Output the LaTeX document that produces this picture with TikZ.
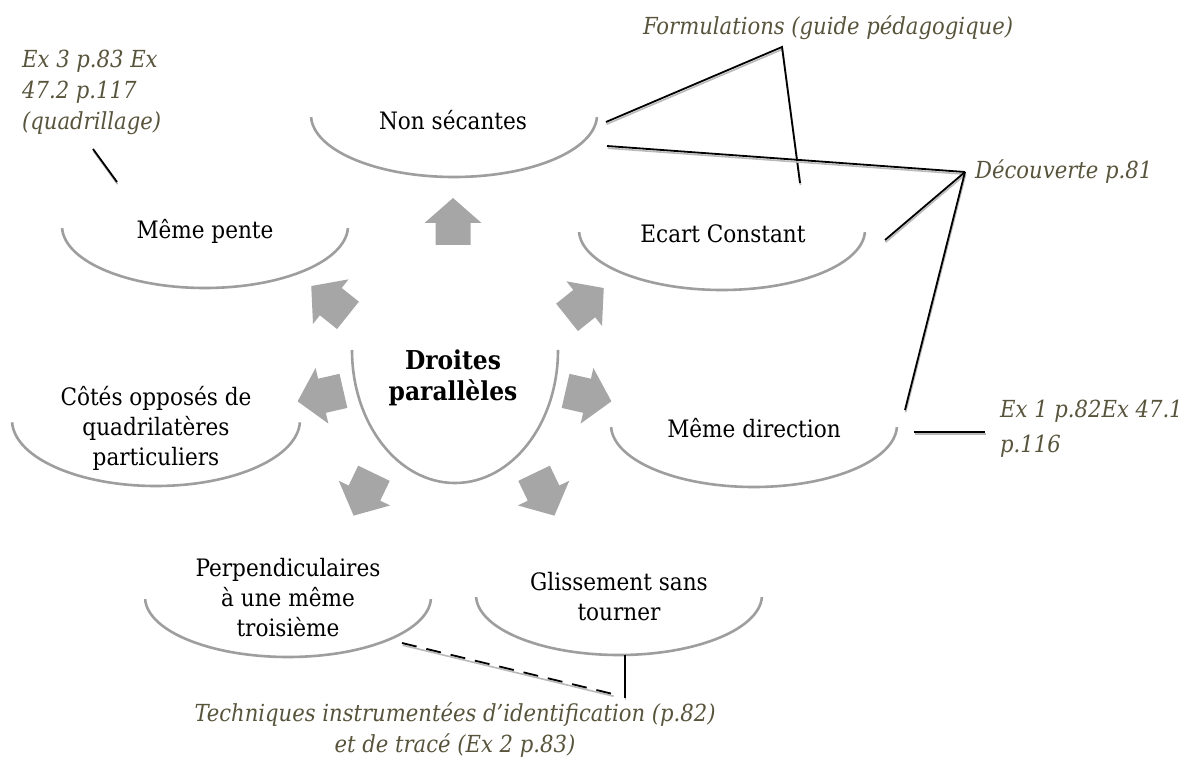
\documentclass[tikz,border=0pt]{standalone}
\usepackage{fontspec}
\setmainfont{DejaVu Serif Condensed}
\definecolor{arcgray}{RGB}{158,158,158}
\definecolor{arrgray}{RGB}{166,166,166}
\definecolor{annot}{RGB}{88,84,60}
\tikzset{
  lab/.style={align=center, inner sep=0pt, text=black, font=\fontsize{24}{30}\selectfont},
  mainlab/.style={align=center, inner sep=0pt, text=black, font=\fontsize{26}{31}\selectfont\bfseries},
  note/.style={align=left, inner sep=0pt, text=annot, font=\fontsize{23.5}{31}\selectfont\itshape},
  bowl/.style={draw=arcgray, line width=2.6pt},
  radarrow/.style={fill=arrgray, draw=none},
  conn/.style={draw=black, line width=1.8pt,
    preaction={draw=gray!55, line width=1.6pt, transform canvas={xshift=0.6pt, yshift=-2.2pt}}},
}
\newcommand{\radarrow}[3]{% x, y, angle
  \fill[radarrow, shift={(#1,#2)}, rotate=#3]
    (-23,-17.5) -- (-1,-17.5) -- (-1,-28.5) -- (24,0) -- (-1,28.5) -- (-1,17.5) -- (-23,17.5) -- cycle;}
\begin{document}
\begin{tikzpicture}[x=1pt,y=-1pt]
\useasboundingbox[fill=white] (0,0) rectangle (1181,767);

% bowls (lower arcs of the node ellipses)
\draw[bowl] (454,115) ++(178:143 and 62) arc[start angle=178, end angle=2, x radius=143, y radius=62];
\draw[bowl] (205,226) ++(178:143 and 62) arc[start angle=178, end angle=2, x radius=143, y radius=62];
\draw[bowl] (722,230) ++(178:143 and 60) arc[start angle=178, end angle=2, x radius=143, y radius=60];
\draw[bowl] (156,420) ++(178:144 and 66) arc[start angle=178, end angle=2, x radius=144, y radius=66];
\draw[bowl] (455,350) ++(180:103 and 133) arc[start angle=180, end angle=0, x radius=103, y radius=133];
\draw[bowl] (754,425) ++(178:143 and 62) arc[start angle=178, end angle=2, x radius=143, y radius=62];
\draw[bowl] (288,597) ++(178:143 and 60) arc[start angle=178, end angle=2, x radius=143, y radius=60];
\draw[bowl] (619,595) ++(178:143 and 60) arc[start angle=178, end angle=2, x radius=143, y radius=60];

% node texts
\node[lab] (ns) at (453,120) {Non sécantes};
\node[lab] (mp) at (205,231) {Même pente};
\node[lab] (ec) at (723,234) {Ecart Constant};
\node[lab] (co) at (156,428) {Côtés opposés de\\quadrilatères\\particuliers};
\node[mainlab] (dp) at (453,378) {Droites\\parallèles};
\node[lab] (md) at (754,428) {Même direction};
\node[lab] (pe) at (288,598) {Perpendiculaires\\à une même\\troisième};
\node[lab] (gl) at (619,597) {Glissement sans\\tourner};

% radial arrows
\radarrow{453}{222}{90}
\radarrow{585}{303}{38.6}
\radarrow{588}{396}{-12.9}
\radarrow{544}{494}{-64.3}
\radarrow{364}{494}{244.3}
\radarrow{321}{396}{192.9}
\radarrow{330}{301}{141.4}

% annotations
\node[note, anchor=north west] (n1) at (22,50) {Ex 3 p.83 Ex\\47.2 p.117\\(quadrillage)};
\node[note, anchor=center] (n2) at (828,28) {Formulations (guide pédagogique)};
\node[note, anchor=west] (n3) at (975,172) {Découverte p.81};
\node[note, anchor=north west, font=\fontsize{23.5}{35}\selectfont\itshape] (n4) at (1000,400) {Ex 1 p.82Ex 47.1\\p.116};
\node[note, align=center, anchor=north, font=\fontsize{23.5}{32}\selectfont\itshape] (n5) at (455,702) {Techniques instrumentées d’identification (p.82)\\et de tracé (Ex 2 p.83)};

% connector points
\coordinate (p1a) at (93,149);   \coordinate (p1b) at (117,182);
\coordinate (fa)  at (782,47);
\coordinate (nsr1) at (606,122); \coordinate (ect) at (800,183);
\coordinate (dv)  at (965,172);
\coordinate (nsr2) at (607,146); \coordinate (ecr) at (885,240);
\coordinate (mdt) at (905,410);
\coordinate (mdr) at (914,432);  \coordinate (n4l) at (985,432);
\coordinate (pebr) at (402,643); \coordinate (tq1) at (613,694);
\coordinate (glb) at (625,655);  \coordinate (tq2) at (625,698);

\draw[conn] (p1a) -- (p1b);
\draw[conn] (nsr1) -- (fa) -- (ect);
\draw[conn] (nsr2) -- (dv);
\draw[conn] (dv) -- (ecr);
\draw[conn] (dv) -- (mdt);
\draw[conn] (mdr) -- (n4l);
\draw[conn, dash pattern=on 15pt off 10pt] (pebr) -- (tq1);
\draw[conn] (glb) -- (tq2);
\end{tikzpicture}
\end{document}
